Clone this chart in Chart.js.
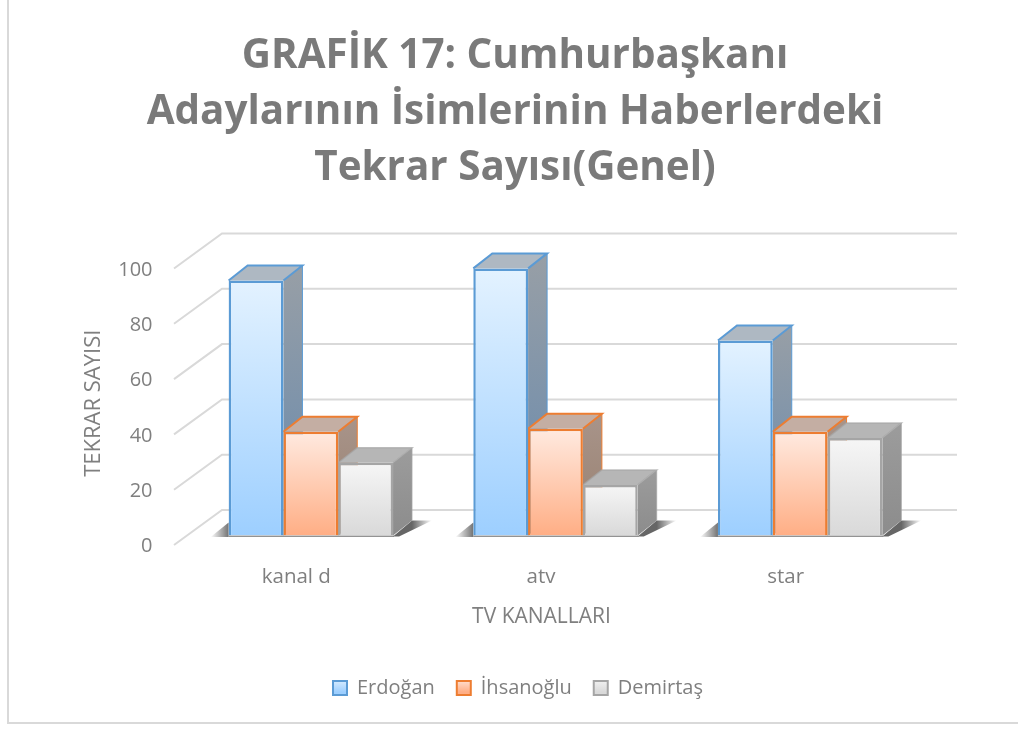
<!DOCTYPE html>
<html><head><meta charset="utf-8">
<style>html,body{margin:0;padding:0;background:#fff}canvas{display:block}</style>
<script src="https://cdn.jsdelivr.net/npm/chart.js@4"></script>
</head><body><canvas id="c" width="1018" height="729"></canvas>
<script>
const categories = ['kanal d', 'atv', 'star'];
const erdogan = [92.2, 96.6, 70.5];
const ihsanoglu = [37.5, 38.6, 37.5];
const demirtas = [26.3, 18.3, 35.3];
const titleLines = ['GRAFİK 17: Cumhurbaşkanı', 'Adaylarının İsimlerinin Haberlerdeki', 'Tekrar Sayısı(Genel)'];
const seriesNames = ['Erdoğan', 'İhsanoğlu', 'Demirtaş'];

const FONT = '"Open Sans"';
const TXT = '#7f7f7f';
const styles = [
  {stroke:'#5b9bd5', f:['#e3f2ff','#9dcfff'], side:['#989fa6','#6689ae'], top:'#aeb8c2'},
  {stroke:'#ed7d31', f:['#ffeae0','#ffae85'], side:['#a8948a','#98806f'], top:'#c4aea3'},
  {stroke:'#a5a5a5', f:['#f6f6f6','#d9d9d9'], side:['#9c9c9c','#8c8c8c'], top:'#b6b6b6'}
];
const DX = 19, DY = 15;

function frontFill(i){
  return function(ctx){
    const chart = ctx.chart, y = chart.scales.y;
    if(!y || ctx.parsed === undefined || !chart.chartArea) return styles[i].f[1];
    const g = chart.ctx.createLinearGradient(0, y.getPixelForValue(ctx.parsed.y), 0, y.getPixelForValue(0));
    g.addColorStop(0, styles[i].f[0]); g.addColorStop(1, styles[i].f[1]);
    return g;
  };
}
function poly(c, pts){
  c.beginPath(); pts.forEach((p,k)=> k? c.lineTo(p[0],p[1]) : c.moveTo(p[0],p[1])); c.closePath();
}
const wall = {
  id:'wall',
  afterLayout(chart){
    const sh = (s,dx,dy)=>{
      if(s._sh) return; s._sh = true;
      const d = s.drawTitle.bind(s);
      s.drawTitle = ()=>{const c=s.ctx;c.save();c.translate(dx,dy);d();c.restore();};
    };
    sh(chart.scales.x,-14,0);
    sh(chart.scales.y,0,6);
    const l = chart.legend;
    if(!l._sh){
      l._sh = true;
      const d = l.draw;
      l.draw = function(a){
        const c = chart.ctx;
        (l.legendItems||[]).forEach((it,i)=>{
          const b = l.legendHitBoxes[i]; if(!b) return;
          const g = c.createLinearGradient(0,b.top,0,b.top+14);
          g.addColorStop(0,styles[i].f[0]); g.addColorStop(1,styles[i].f[1]);
          it.fillStyle = g; it.strokeStyle = styles[i].stroke; it.lineWidth = 2;
        });
        c.save(); c.translate(3,0); d.call(l,a); c.restore();
      };
    }
  },
  beforeDatasetsDraw(chart){
    const c = chart.ctx, y = chart.scales.y, a = chart.chartArea;
    c.save();
    c.strokeStyle = '#d9d9d9'; c.lineWidth = 2;
    c.beginPath(); c.moveTo(8,0); c.lineTo(8,723); c.lineTo(1018,723); c.stroke();
    c.strokeStyle = '#d9d9d9'; c.lineWidth = 2;
    y.ticks.forEach(t=>{
      const py = y.getPixelForValue(t.value), back = py-25.5;
      c.beginPath();
      c.moveTo(a.left-14.5, back+35); c.lineTo(a.left+33.5, back); c.lineTo(a.right+34.5, back);
      c.stroke();
    });
    const m0 = chart.getDatasetMeta(0), m2 = chart.getDatasetMeta(2);
    categories.forEach((_,i)=>{
      const e0 = m0.data[i], e2 = m2.data[i];
      const x0 = e0.x-e0.width/2, x1 = e2.x+e2.width/2, b = e0.base;
      let g = c.createLinearGradient(x0-18,0,x0,0);
      g.addColorStop(0,'rgba(0,0,0,0)'); g.addColorStop(1,'rgba(0,0,0,.55)');
      c.fillStyle = g; poly(c,[[x0-18,b+1.5],[x0,b+1.5],[x0,b-13]]); c.fill();
      g = c.createLinearGradient(x1+DX,0,x1+DX+20,0);
      g.addColorStop(0,'rgba(0,0,0,.6)'); g.addColorStop(1,'rgba(0,0,0,0)');
      c.fillStyle = g; poly(c,[[x1,b+1],[x1+DX,b-DY],[x1+DX+20,b-DY],[x1+6,b+1]]); c.fill();
      c.fillStyle = 'rgba(120,120,120,.8)';
      c.fillRect(x0,b,x1-x0+1,1.5);
    });
    categories.forEach((_,i)=>{
      [0,1,2].forEach(d=>{
        const e = chart.getDatasetMeta(d).data[i], s = styles[d];
        const l = e.x-e.width/2, r = e.x+e.width/2, t = e.y, b = e.base;
        const g = c.createLinearGradient(0,t-DY,0,b);
        g.addColorStop(0,s.side[0]); g.addColorStop(1,s.side[1]);
        c.fillStyle = g;
        poly(c,[[r,t],[r+DX,t-DY],[r+DX,b-DY],[r,b]]); c.fill();
        c.fillStyle = s.top;
        poly(c,[[l,t],[l+DX,t-DY],[r+DX,t-DY],[r,t]]); c.fill();
        c.strokeStyle = s.stroke; c.lineWidth = d===2?1.5:2;
        if(d===2) c.globalAlpha = .7;
        c.beginPath(); c.moveTo(l,t); c.lineTo(l+DX,t-DY); c.lineTo(r+DX,t-DY); c.lineTo(r,t);
        c.stroke();
        c.lineWidth = 1;
        c.beginPath(); c.moveTo(r+DX,t-DY); c.lineTo(r+DX,b-DY); c.stroke();
        c.globalAlpha = 1;
      });
    });
    c.restore();
  }
};

function ds(label, data, i){
  return {label, data, backgroundColor: frontFill(i), borderColor: styles[i].stroke, borderWidth: 2.5,
          barPercentage: 1, categoryPercentage: 0.672};
}
new Chart(document.getElementById('c'), {
  type:'bar',
  data:{labels:categories, datasets:[ds(seriesNames[0],erdogan,0), ds(seriesNames[1],ihsanoglu,1), ds(seriesNames[2],demirtas,2)]},
  plugins:[wall],
  options:{
    responsive:false, animation:false,
    layout:{padding:{left:12,right:0,top:0,bottom:21}},
    plugins:{
      tooltip:{enabled:false},
      title:{display:true, text:titleLines, color:'#7a7a7a',
        font:{family:FONT, size:40.4, weight:'bold', lineHeight:1.386}, padding:{top:29,bottom:62}},
      legend:{position:'bottom', align:'center',
        labels:{color:TXT, font:{family:FONT,size:20}, boxWidth:14, boxHeight:14, padding:22},
      }
    },
    scales:{
      x:{type:'category', grid:{display:false}, border:{display:false},
        ticks:{color:TXT, font:{family:FONT,size:20.5}, padding:21, maxRotation:0, labelOffset:-14.5},
        title:{display:true,text:'TV KANALLARI',color:TXT,font:{family:FONT,size:21},padding:{top:14,bottom:26}},
        afterFit(s){s.height=120.5;}},
      y:{min:0,max:100,grid:{display:false},border:{display:false},
        ticks:{stepSize:20,color:TXT,font:{family:FONT,size:20},padding:28,labelOffset:11},
        title:{display:true,text:'TEKRAR SAYISI',color:TXT,font:{family:FONT,size:22},padding:{top:69,bottom:0}},
        afterFit(s){s.width=176.5;}},
      yR:{position:'right',display:true,min:0,max:100,grid:{display:false},border:{display:false},
        ticks:{display:false},afterFit(s){s.width=95.5;}}
    }
  }
});
</script></body></html>
